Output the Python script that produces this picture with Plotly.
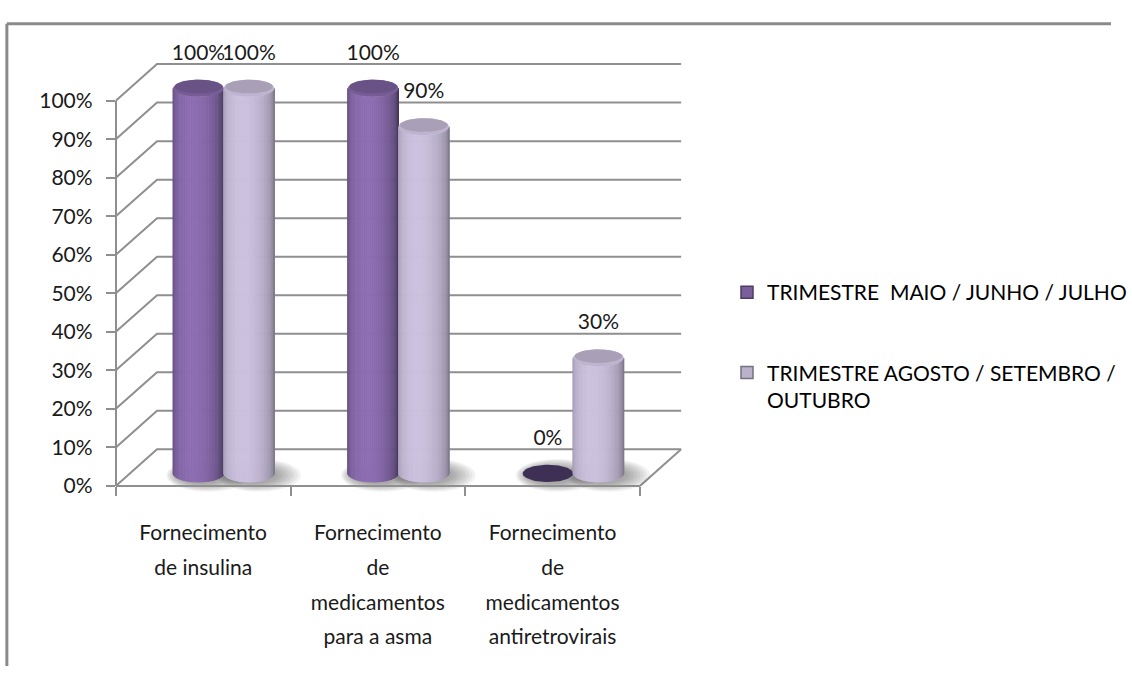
import math
import plotly.graph_objects as go

# ---------------- data ----------------
CATEGORIES = [
    "Fornecimento de insulina",
    "Fornecimento de medicamentos para a asma",
    "Fornecimento de medicamentos antiretrovirais",
]
CATEGORY_LINES = [
    ["Fornecimento", "de insulina"],
    ["Fornecimento", "de", "medicamentos", "para a asma"],
    ["Fornecimento", "de", "medicamentos", "antiretrovirais"],
]
SERIES_NAMES = [
    "TRIMESTRE  MAIO / JUNHO / JULHO",
    "TRIMESTRE AGOSTO / SETEMBRO /<br>OUTUBRO",
]
MAIO_JUNHO_JULHO = [100, 100, 0]
AGOSTO_SETEMBRO_OUTUBRO = [100, 90, 30]
Y_TICK_VALUES = [0, 10, 20, 30, 40, 50, 60, 70, 80, 90, 100]
Y_TICK_LABELS = ["0%", "10%", "20%", "30%", "40%", "50%", "60%", "70%", "80%", "90%", "100%"]

SERIES = [MAIO_JUNHO_JULHO, AGOSTO_SETEMBRO_OUTUBRO]

# ---------------- style ----------------
FONT = "Lato, 'Open Sans', sans-serif"
FONT_SIZE = 21
TEXT_COLOR = "#1a1a1a"
GRID_COLOR = "#8f8f8f"
FRAME_COLOR = "#8a8a8a"
SERIES_RGB = [(128, 100, 162), (196, 186, 214)]
SHADE = [(0.64, 0.46), (0.72, 0.32)]     # ambient, diffuse per series
CAP_FACTOR = [(0.92, 0.82), (0.97, 0.86)]  # rim, inner
FLAT_CAP_COLOR = "rgb(62,48,84)"
LIGHT_ANGLE = -0.25

W, H = 1132, 677
ORIGIN_X, ORIGIN_Y = 118.0, 490.0   # front-left floor corner (px)
PX_PER_CAT, PX_PER_PCT = 178.0, 4.0

# projection helpers: axis units are categories (x) and percent (y)
WALL_DX, WALL_DY = 42.0 / PX_PER_CAT, 38.0 / PX_PER_PCT
CYL_DX, CYL_DY = 21.0 / PX_PER_CAT, 13.0 / PX_PER_PCT
CYL_W = 51.5 / PX_PER_CAT
CYL_RX = CYL_W / 2.0
CYL_RY = 9.0 / PX_PER_PCT
LABEL_GAP = 35.0 / PX_PER_PCT
CAT_LABEL_TOP = (ORIGIN_Y - 541.0) / PX_PER_PCT
CAT_LABEL_STEP = 36.0 / PX_PER_PCT
N_CAT = len(CATEGORIES)

X_RANGE = [-ORIGIN_X / PX_PER_CAT, (W - ORIGIN_X) / PX_PER_CAT]
Y_RANGE = [(ORIGIN_Y - H) / PX_PER_PCT, ORIGIN_Y / PX_PER_PCT]


def rgb(c, f):
    return "rgb({},{},{})".format(*[max(0, min(255, int(round(v * f)))) for v in c])


def ellipse(cx, cy, rx, ry, n=72):
    xs, ys = [], []
    for k in range(n + 1):
        a = 2 * math.pi * k / n
        xs.append(cx + rx * math.cos(a))
        ys.append(cy + ry * math.sin(a))
    return xs, ys


fig = go.Figure()

# side wall, back wall and floor lines
gx, gy = [], []
for v in Y_TICK_VALUES:
    gx += [0, WALL_DX, N_CAT + WALL_DX, None]
    gy += [v, v + WALL_DY, v + WALL_DY, None]
gx += [N_CAT, N_CAT + WALL_DX, None]
gy += [0, WALL_DY, None]
fig.add_trace(go.Scatter(x=gx, y=gy, mode="lines", line=dict(color=GRID_COLOR, width=2),
                         hoverinfo="skip", showlegend=False))

# cylinder centres
centres = []
for i in range(N_CAT):
    for s, values in enumerate(SERIES):
        cx = i + 0.5 + CYL_DX + (s - 0.5) * CYL_W
        centres.append((i, s, cx, values[i]))

# soft floor shadows, cast slightly to the right
for (i, s, cx, v) in centres:
    for k in range(8):
        grow = (7 - k) / 7.0
        xs, ys = ellipse(cx + (4.0 + 6.0 * grow) / PX_PER_CAT, CYL_DY - 0.5,
                         CYL_RX + grow * 17.0 / PX_PER_CAT, CYL_RY + grow * 8.0 / PX_PER_PCT)
        fig.add_trace(go.Scatter(x=xs, y=ys, mode="lines", fill="toself",
                                 fillcolor="rgba(60,60,60,0.065)", line=dict(width=0),
                                 hoverinfo="skip", showlegend=False))

# cylinders
N_STRIPS = 40
for (i, s, cx, v) in centres:
    base = CYL_DY
    top = base + v
    amb, dif = SHADE[s]
    if v > 0:
        for k in range(N_STRIPS):
            p0 = -math.pi / 2 + math.pi * k / N_STRIPS
            p1 = -math.pi / 2 + math.pi * (k + 1) / N_STRIPS
            f = amb + dif * math.cos((p0 + p1) / 2 - LIGHT_ANGLE)
            ts = [math.sin(p0) + (math.sin(p1) - math.sin(p0)) * j / 4 for j in range(5)]
            xs = [cx + CYL_RX * t for t in ts] + [cx + CYL_RX * t for t in reversed(ts)]
            ys = ([base - CYL_RY * math.sqrt(max(0.0, 1 - t * t)) for t in ts] +
                  [top - CYL_RY * math.sqrt(max(0.0, 1 - t * t)) for t in reversed(ts)])
            col = rgb(SERIES_RGB[s], f)
            fig.add_trace(go.Scatter(x=xs + [xs[0]], y=ys + [ys[0]], mode="lines", fill="toself",
                                     fillcolor=col, line=dict(color=col, width=0.8),
                                     hoverinfo="skip", showlegend=False))
        rim, inner = CAP_FACTOR[s]
        xs, ys = ellipse(cx, top, CYL_RX, CYL_RY)
        fig.add_trace(go.Scatter(x=xs, y=ys, mode="lines", fill="toself",
                                 fillcolor=rgb(SERIES_RGB[s], rim), line=dict(width=0),
                                 hoverinfo="skip", showlegend=False))
        xs, ys = ellipse(cx, top + CYL_RY * 0.18, CYL_RX * 0.94, CYL_RY * 0.78)
        fig.add_trace(go.Scatter(x=xs, y=ys, mode="lines", fill="toself",
                                 fillcolor=rgb(SERIES_RGB[s], inner), line=dict(width=0),
                                 hoverinfo="skip", showlegend=False))
    else:
        xs, ys = ellipse(cx, top, CYL_RX, CYL_RY)
        fig.add_trace(go.Scatter(x=xs, y=ys, mode="lines", fill="toself",
                                 fillcolor=FLAT_CAP_COLOR, line=dict(width=0),
                                 hoverinfo="skip", showlegend=False))

# value labels
fig.add_trace(go.Scatter(
    x=[c[2] for c in centres],
    y=[CYL_DY + c[3] + LABEL_GAP for c in centres],
    text=["{}%".format(c[3]) for c in centres],
    mode="text", textposition="middle center",
    textfont=dict(family=FONT, size=FONT_SIZE, color=TEXT_COLOR),
    hoverinfo="skip", showlegend=False))

# category labels, one text row per line
lx, ly, lt = [], [], []
for i, lines in enumerate(CATEGORY_LINES):
    for j, line in enumerate(lines):
        lx.append(i + 0.5)
        ly.append(CAT_LABEL_TOP - j * CAT_LABEL_STEP)
        lt.append(line)
fig.add_trace(go.Scatter(x=lx, y=ly, text=lt, mode="text", textposition="middle center",
                         textfont=dict(family=FONT, size=FONT_SIZE, color=TEXT_COLOR),
                         hoverinfo="skip", showlegend=False))

# front value axis and category axis
fig.add_trace(go.Scatter(x=CATEGORIES, y=[None] * N_CAT, xaxis="x2", yaxis="y2",
                         mode="markers", hoverinfo="skip", showlegend=False))

# legend entries
for s, name in enumerate(SERIES_NAMES):
    fig.add_trace(go.Scatter(
        x=[None], y=[None], mode="markers", name=name, legendgroup=str(s),
        marker=dict(symbol="square", size=12, color=rgb(SERIES_RGB[s], 0.95),
                    line=dict(color=rgb(SERIES_RGB[s], 0.6), width=1.5))))

fig.update_layout(
    width=W, height=H,
    margin=dict(l=0, r=0, t=0, b=0),
    paper_bgcolor="white", plot_bgcolor="rgba(0,0,0,0)",
    font=dict(family=FONT, size=FONT_SIZE, color=TEXT_COLOR),
    xaxis=dict(range=X_RANGE, domain=[0, 1], visible=False, fixedrange=True),
    yaxis=dict(range=Y_RANGE, domain=[0, 1], visible=False, fixedrange=True),
    xaxis2=dict(
        domain=[ORIGIN_X / W, (ORIGIN_X + N_CAT * PX_PER_CAT) / W],
        anchor="free", position=(H - ORIGIN_Y) / H,
        type="category", categoryorder="array", categoryarray=CATEGORIES,
        range=[-0.5, N_CAT - 0.5], showticklabels=False,
        showline=True, linecolor=GRID_COLOR, linewidth=2,
        ticks="outside", tickson="boundaries", ticklen=9, tickwidth=2, tickcolor=GRID_COLOR,
        showgrid=False, zeroline=False, fixedrange=True),
    yaxis2=dict(
        domain=[(H - ORIGIN_Y) / H, (H - ORIGIN_Y + 100 * PX_PER_PCT) / H],
        anchor="free", position=ORIGIN_X / W, range=[0, 100],
        tickmode="array", tickvals=Y_TICK_VALUES, ticktext=Y_TICK_LABELS,
        showline=True, linecolor=GRID_COLOR, linewidth=2,
        ticks="outside", ticklen=9, tickwidth=2, tickcolor=GRID_COLOR,
        ticklabelstandoff=9,
        tickfont=dict(family=FONT, size=FONT_SIZE, color=TEXT_COLOR),
        showgrid=False, zeroline=False, fixedrange=True),
    legend=dict(x=741 / W, y=1 - 268 / H, xanchor="left", yanchor="top",
                font=dict(family=FONT, size=FONT_SIZE, color="#000000"),
                tracegroupgap=50, valign="top", bgcolor="rgba(0,0,0,0)",
                itemclick=False, itemdoubleclick=False),
    showlegend=True,
    shapes=[
        dict(type="line", xref="paper", yref="paper", x0=7 / W, x1=1, y0=1 - 10 / H, y1=1 - 10 / H,
             line=dict(color=FRAME_COLOR, width=3)),
        dict(type="line", xref="paper", yref="paper", x0=7 / W, x1=7 / W, y0=0, y1=1 - 10 / H,
             line=dict(color=FRAME_COLOR, width=3)),
    ],
)

fig.write_html("out.html", config={"displayModeBar": False})
